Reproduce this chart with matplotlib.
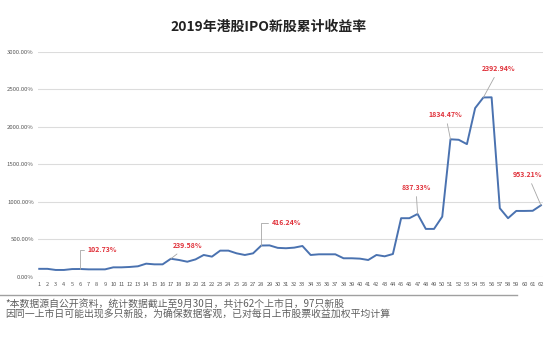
import matplotlib
matplotlib.use("Agg")
import matplotlib.pyplot as plt
from matplotlib.lines import Line2D

plt.rcParams['font.family'] = ['Noto Sans CJK SC', 'DejaVu Sans']

# 上市日序号与累计收益率(%)
days = list(range(1, 63))
returns = [
    105, 105, 90, 90, 102, 102.73, 98, 98, 98, 125,
    125, 130, 139, 174, 165, 165, 239.58, 223, 200, 231,
    290, 268, 348, 348, 312, 290, 312, 416.24, 418, 385,
    380, 388, 410, 290, 299, 299, 299, 246, 246, 241,
    223, 290, 272, 303, 781, 781, 837.33, 638, 638, 802,
    1834.47, 1828, 1770, 2251, 2392.94, 2395, 914, 781, 878, 878,
    880, 953.21,
]
yticks = [0, 500, 1000, 1500, 2000, 2500, 3000]

# 标注: (序号, 文字位置x, 文字位置y, 折线)
labels = [
    (6, 6.9, 357, True),
    (17, 19.0, 410, False),
    (28, 29.3, 718, True),
    (47, 46.8, 1190, False),
    (51, 50.4, 2162, False),
    (55, 56.9, 2777, False),
    (62, 60.4, 1360, False),
]

fig = plt.figure(figsize=(5.59, 3.53), dpi=100)
ax = fig.add_axes([38 / 559, 1 - 276.7 / 353, (543 - 38) / 559, (276.7 - 52) / 353])

ax.plot(days, returns, color="#4a72b0", linewidth=1.4, solid_joinstyle="round")
ax.set_xlim(0.85, 62.25)
ax.set_ylim(0, 3000)
ax.set_yticks(yticks)
ax.set_yticklabels([f"{v:.2f}%" for v in yticks])
ax.set_xticks(days)
ax.set_xticklabels([str(d) for d in days])
ax.tick_params(axis="y", labelsize=4.3, colors="#595959", length=0, pad=3)
ax.tick_params(axis="x", labelsize=4.1, colors="#595959", length=0, pad=4)
ax.grid(axis="y", color="#dcdcdc", linewidth=0.8)
ax.set_axisbelow(True)
for s in ax.spines.values():
    s.set_visible(False)

for day, tx, ty, elbow in labels:
    val = returns[day - 1]
    txt = f"{val:.2f}%"
    if elbow:
        ax.annotate(txt, xy=(day, val), xytext=(tx, ty), ha="left", va="center",
                    fontsize=5, fontweight="bold", color="#e0313a",
                    arrowprops=dict(arrowstyle="-", color="#a6a6a6", lw=0.6,
                                    shrinkA=1, shrinkB=0,
                                    connectionstyle="angle,angleA=0,angleB=90,rad=0"))
    else:
        ax.annotate(txt, xy=(day, val), xytext=(tx, ty), ha="center", va="center",
                    fontsize=5, fontweight="bold", color="#e0313a",
                    arrowprops=dict(arrowstyle="-", color="#a6a6a6", lw=0.6,
                                    shrinkA=2, shrinkB=0))

fig.text(0.481, 0.924, "2019年港股IPO新股累计收益率", ha="center", va="center",
         fontsize=10, fontweight="bold", color="#222222")

fig.add_artist(Line2D([0, 0.925], [1 - 294.5 / 353] * 2, color="#a0a0a0", linewidth=1.0,
                      transform=fig.transFigure))
fig.text(0.009, 1 - 303.5 / 353, "*本数据源自公开资料，统计数据截止至9月30日，共计62个上市日，97只新股",
         ha="left", va="center", fontsize=7.1, color="#606060")
fig.text(0.009, 1 - 313.5 / 353, "因同一上市日可能出现多只新股，为确保数据客观，已对每日上市股票收益加权平均计算",
         ha="left", va="center", fontsize=7.1, color="#606060")

fig.savefig("out.png", dpi=100)
